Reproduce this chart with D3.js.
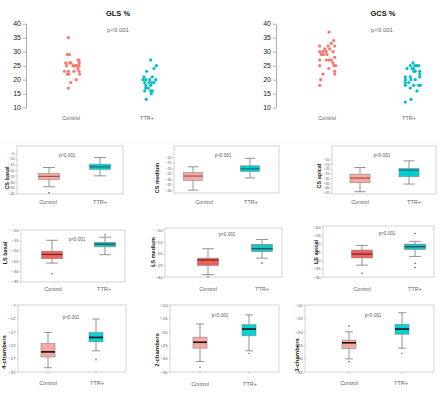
<!DOCTYPE html>
<html>
<head>
<meta charset="utf-8">
<script src="https://cdn.jsdelivr.net/npm/d3@7"></script>
<style>
  body { margin: 0; background: #fff; }
  svg { display: block; }
</style>
</head>
<body>
<script>
"use strict";

// ---- values ----
const groups = ["Control", "TTR+"]
const scatterTitles = ["GLS %", "GCS %"]
const scatterTicks = [10, 15, 20, 25, 30, 35, 40]
const pText = "p<0.001"

const glsControl = [35, 29, 29, 27, 27, 26, 26, 26, 26, 25, 25, 25, 25, 25, 24, 23, 23, 23, 23, 22, 22, 22, 20, 19, 17]
const glsControlJit = [-0.37, -0.47, -0.27, 0.6, 0.7, -0.63, -0.23, -0.1, 0.73, -0.53, 0.1, 0.3, 0.5, 0.7, 0.6, -0.77, -0.37, 0.2, 0.7, -0.47, -0.3, 0.77, 0.43, -0.13, -0.37]
const glsTtr = [27, 25, 24, 23, 21, 21, 20, 20, 20, 20, 19, 19, 19, 19, 18, 18, 17, 17, 16, 16, 16, 15, 13]
const glsTtrJit = [0.07, 0.63, 0.4, -0.33, -0.6, 0.23, -0.7, -0.43, -0.03, 0.57, -0.53, -0.1, 0.17, 0.4, -0.43, 0.07, -0.43, -0.17, -0.53, 0.07, 0.23, 0.13, -0.37]

const gcsControl = [37, 34, 33, 32, 32, 32, 31, 31, 30, 30, 30, 30, 29, 29, 29, 28, 27, 27, 27, 27, 26, 25, 25, 25, 24, 23, 22, 22, 20, 18]
const gcsControlJit = [0.2, 0.67, 0.43, -0.73, 0.1, 0.77, -0.23, 0.27, -0.73, -0.4, -0.07, 0.6, -0.57, -0.33, 0, 0.77, -0.73, -0.07, 0.2, 0.43, 0.6, -0.73, 0.7, 0.87, 0.17, 0.77, -0.4, 0.77, -0.63, -0.73]
const gcsTtr = [26, 25, 25, 25, 25, 24, 24, 24, 23, 23, 23, 22, 21, 21, 21, 20, 20, 20, 19, 19, 18, 18, 18, 18, 17, 16, 13, 12]
const gcsTtrJit = [0, -0.27, 0.17, 0.4, 0.57, -0.6, -0.1, 0.07, 0.07, 0.23, 0.67, 0.67, -0.77, -0.27, 0.67, -0.77, -0.2, 0.23, -0.77, -0.43, -0.77, 0.07, 0.57, 0.73, -0.27, 0.4, -0.2, -0.77]

const boxNames = ["CS basal", "CS medium", "CS apical", "LS basal", "LS medium", "LS apical", "4-chambers", "2-chambers", "3-chambers"]
const boxDomains = [[1, -40.5], [0, -42.7], [4, -46.7], [-10, -35.3], [-9.2, -30], [-9.5, -40], [-7, -32], [-10, -35], [-10, -35]]
const boxTicks = [
    [-5, -10, -15, -20, -25, -30, -35, -40],
    [-10, -15, -20, -25, -30, -35, -40],
    [-10, -15, -20, -25, -30, -35, -40, -45],
    [-10, -15, -20, -25, -30, -35],
    [-10, -15, -20, -25, -30],
    [-10, -15, -20, -25, -30, -35, -40],
    [-7, -12, -17, -22, -27, -32],
    [-10, -15, -20, -25, -30, -35],
    [-10, -15, -20, -25, -30, -35]
]
// [whisker low, Q1, median, Q3, whisker high]
const boxControl = [
    [-34.2, -27.9, -25.3, -22.8, -17.6],
    [-40.1, -31.2, -27.3, -24, -18.9],
    [-44.3, -34.8, -29.9, -25.7, -18.7],
    [-26.1, -24, -21.9, -20.3, -15],
    [-29, -25.1, -22.8, -22, -18],
    [-32.9, -28.6, -26.3, -23.9, -21.1],
    [-30.4, -26.4, -24.5, -21.4, -17.25],
    [-31.1, -26.1, -23.9, -22, -17.1],
    [-30.1, -26.3, -24.1, -23.1, -20]
]
const boxTtr = [
    [-24.8, -19.3, -17, -14.7, -9],
    [-29, -23.1, -20.7, -18, -11.2],
    [-36.2, -28.5, -21.5, -19.8, -11.7],
    [-22, -18.2, -16.9, -16, -13.5],
    [-22, -19.2, -18, -16.1, -14.1],
    [-27.7, -23.6, -21.9, -20.3, -18.7],
    [-24.1, -20.75, -19.1, -17.25, -12.25],
    [-27.1, -21.5, -19, -17.3, -13.7],
    [-26.1, -20.9, -19, -17.2, -12.9]
]
const outControl = [[-39.4], [], [], [-31.3], [-29.8], [-37.8], [], [-33.2], [-17.9, -31.2]]
const outTtr = [[], [], [], [-12.4], [-24.1], [-14, -31.8, -34.3], [-27.4], [-28.1], [-28]];

(function(){
    const font = '"Liberation Sans", Arial, sans-serif'
    const dotColors = ["#f8766d", "#00bfc4"]

    // layout of the two scatter panels
    const scatterLayout = [
        { axisX: 26, cx: [72, 150], title: [118, 16], p: [118, 32], labels: [71, 147] },
        { axisX: 276, cx: [327, 413], title: [383, 16], p: [382, 32], labels: [327, 409] }
    ]
    // layout of the nine box panels
    const boxLayout = [
        { x0: 17, x1: 123, y0: 146, y1: 194, cx: [49, 100], bw: 21, lab: [7, 178], p: [67, 157], xl: [48, 100], xly: 204, row: 0 },
        { x0: 174, x1: 279, y0: 146, y1: 193, cx: [193, 250], bw: 19, lab: [157, 178], p: [223, 157], xl: [204, 251], xly: 204, row: 0 },
        { x0: 332, x1: 436, y0: 146, y1: 194, cx: [360, 409], bw: 20, lab: [319, 176], p: [382, 157], xl: [360, 414], xly: 204, row: 0 },
        { x0: 21, x1: 125, y0: 230, y1: 282, cx: [52, 105], bw: 21, lab: [5, 253], p: [77, 241], xl: [53, 104], xly: 291, row: 1 },
        { x0: 165, x1: 282, y0: 228, y1: 277, cx: [208, 262], bw: 21, lab: [153, 252], p: [227, 236], xl: [208, 262], xly: 291, row: 1 },
        { x0: 323, x1: 434, y0: 226, y1: 277, cx: [362, 415], bw: 21, lab: [316, 252], p: [387, 235], xl: [362, 415], xly: 291, row: 1 },
        { x0: 18, x1: 126, y0: 305, y1: 372, cx: [48, 96], bw: 14, lab: [4, 352], p: [71, 319], xl: [48, 97], xly: 385, row: 2 },
        { x0: 170, x1: 279, y0: 305, y1: 372, cx: [200, 249], bw: 14, lab: [157, 350], p: [220, 317], xl: [200, 250], xly: 386, row: 2 },
        { x0: 305, x1: 434, y0: 305, y1: 372, cx: [349, 402], bw: 14, lab: [297, 355], p: [373, 317], xl: [349, 401], xly: 385, row: 2 }
    ]
    const rowStyles = [
        { fill: ["#f6aaa4", "#00cdcd"], med: ["#a8514c", "#0f7676"], medW: 1.2, out: ["#555", "#555"], tick: 3.6, lab: 5.5 },
        { fill: ["#f0615b", "#1fc1c1"], med: ["#6e2420", "#0b5555"], medW: 1.2, out: ["#555", "#555"], tick: 4.2, lab: 5.5 },
        { fill: ["#f7aaa5", "#00d3d6"], med: ["#111", "#111"], medW: 1.6, out: ["#5a6f99", "#3f8fc8"], tick: 4.2, lab: 6 }
    ]

    const svg = d3.select("body").append("svg")
        .attr("width", 440)
        .attr("height", 394)
        .style("font-family", font)

    drawScatter(0, [glsControl, glsTtr], [glsControlJit, glsTtrJit])
    drawScatter(1, [gcsControl, gcsTtr], [gcsControlJit, gcsTtrJit])

    //faint dotted separator above the CS row
    svg.append("line")
        .attr("x1", 0).attr("x2", 440).attr("y1", 143).attr("y2", 143)
        .attr("stroke", "#d0d0d0").attr("stroke-width", 0.6)
        .attr("stroke-dasharray", "1,3")

    boxNames.forEach((name, i) => drawBox(i))

    //Jittered dot plot with a single left axis (GLS / GCS)
    function drawScatter(i, series, jitter) {
        const L = scatterLayout[i]
        const y = d3.scaleLinear().domain([10, 40]).range([107.7, 23.7])
        const x = d3.scaleOrdinal().domain(groups).range(L.cx)
        const jit = d3.scaleLinear().domain([-1, 1]).range([-10, 10])
        const g = svg.append("g")

        g.append("g")
            .attr("transform", `translate(${L.axisX},0)`)
            .call(d3.axisLeft(y).tickValues(scatterTicks).tickSize(3).tickSizeOuter(0).tickPadding(2))
            .call(a => {
                a.select(".domain").attr("stroke", "#999").attr("stroke-width", 0.8)
                a.selectAll(".tick line").attr("stroke", "#999").attr("stroke-width", 0.8)
                a.selectAll("text").attr("font-size", 7).attr("fill", "#222").attr("font-family", font)
            })

        series.forEach((vals, k) => {
            g.selectAll(null)
                .data(vals)
                .enter()
                .append("circle")
                    .attr("cx", (d, j) => x(groups[k]) + jit(jitter[k][j]))
                    .attr("cy", d => y(d))
                    .attr("r", 1.6)
                    .attr("fill", dotColors[k])
        })

        g.append("text")
            .attr("x", L.title[0]).attr("y", L.title[1])
            .attr("text-anchor", "middle")
            .attr("font-size", 7.5).attr("font-weight", "bold").attr("fill", "#111")
            .text(scatterTitles[i])
        g.append("text")
            .attr("x", L.p[0]).attr("y", L.p[1])
            .attr("text-anchor", "middle")
            .attr("font-size", 6).attr("fill", "#666")
            .text(pText)
        groups.forEach((gr, k) => {
            g.append("text")
                .attr("x", L.labels[k]).attr("y", 120)
                .attr("text-anchor", "middle")
                .attr("font-size", 5.5).attr("fill", "#666")
                .text(gr)
        })
    }

    //Framed box plot panel (SPSS style)
    function drawBox(i) {
        const L = boxLayout[i]
        const st = rowStyles[L.row]
        const y = d3.scaleLinear().domain(boxDomains[i]).range([L.y0, L.y1])
        const x = d3.scaleOrdinal().domain(groups).range(L.cx)
        const g = svg.append("g")

        g.append("rect")
            .attr("x", L.x0).attr("y", L.y0)
            .attr("width", L.x1 - L.x0).attr("height", L.y1 - L.y0)
            .attr("fill", "none").attr("stroke", "#c8c8c8").attr("stroke-width", 0.8)

        g.append("g")
            .attr("transform", `translate(${L.x0},0)`)
            .call(d3.axisLeft(y).tickValues(boxTicks[i]).tickSize(1.5).tickSizeOuter(0).tickPadding(1))
            .call(a => {
                a.select(".domain").remove()
                a.selectAll(".tick line").attr("stroke", "#aaa").attr("stroke-width", 0.5)
                a.selectAll("text").attr("font-size", st.tick).attr("fill", "#555").attr("font-family", font)
            })

        const stats = [boxControl[i], boxTtr[i]]
        const outs = [outControl[i], outTtr[i]]
        stats.forEach((s, k) => {
            const cx = x(groups[k])
            const w = L.bw
            const cap = w * 0.28
            g.append("line")
                .attr("x1", cx).attr("x2", cx).attr("y1", y(s[4])).attr("y2", y(s[0]))
                .attr("stroke", "#777").attr("stroke-width", 0.8)
            g.selectAll(null)
                .data([s[0], s[4]])
                .enter()
                .append("line")
                    .attr("x1", cx - cap).attr("x2", cx + cap)
                    .attr("y1", d => y(d)).attr("y2", d => y(d))
                    .attr("stroke", "#777").attr("stroke-width", 0.8)
            g.append("rect")
                .attr("x", cx - w / 2).attr("y", y(s[3]))
                .attr("width", w).attr("height", y(s[1]) - y(s[3]))
                .attr("fill", st.fill[k]).attr("stroke", "#888").attr("stroke-width", 0.6)
            g.append("line")
                .attr("x1", cx - w / 2).attr("x2", cx + w / 2)
                .attr("y1", y(s[2])).attr("y2", y(s[2]))
                .attr("stroke", st.med[k]).attr("stroke-width", st.medW)
            g.selectAll(null)
                .data(outs[k])
                .enter()
                .append("circle")
                    .attr("cx", cx).attr("cy", d => y(d))
                    .attr("r", 0.8)
                    .attr("fill", st.out[k])
            if (L.row === 2) {
                g.append("line")
                    .attr("x1", cx).attr("x2", cx).attr("y1", L.y1).attr("y2", L.y1 + 1.5)
                    .attr("stroke", "#888").attr("stroke-width", 0.6)
            }
            g.append("text")
                .attr("x", L.xl[k]).attr("y", L.xly)
                .attr("text-anchor", "middle")
                .attr("font-size", 5.5).attr("fill", "#666")
                .text(groups[k])
        })

        g.append("text")
            .attr("x", L.p[0]).attr("y", L.p[1])
            .attr("text-anchor", "middle")
            .attr("font-size", 4.6).attr("fill", "#555")
            .text(pText)

        g.append("text")
            .attr("transform", `translate(${L.lab[0]},${L.lab[1]}) rotate(-90)`)
            .attr("text-anchor", "middle")
            .attr("dy", "0.35em")
            .attr("font-size", st.lab).attr("font-weight", "bold").attr("fill", "#222")
            .text(boxNames[i])
    }
})()
</script>
</body>
</html>
